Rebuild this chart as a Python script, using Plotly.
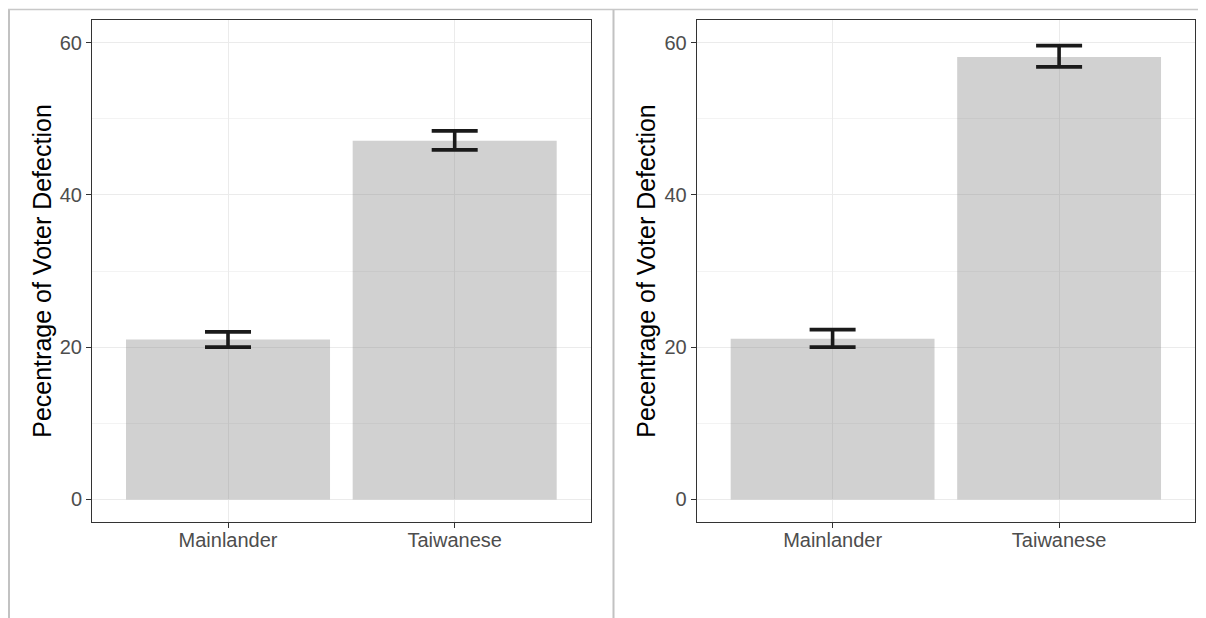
import plotly.graph_objects as go

# ---- data ----
groups = ["Mainlander", "Taiwanese"]
left_values = [21.0, 47.1]
left_lower = [20.0, 45.9]
left_upper = [22.0, 48.4]
right_values = [21.1, 58.1]
right_lower = [20.0, 56.8]
right_upper = [22.3, 59.6]
y_ticks = [0, 20, 40, 60]
y_title = "Pecentrage of Voter Defection"

# the page body has an 8px margin, so the figure starts at (8, 8)
OFF = 8
W, H = 1206 - OFF, 618 - OFF
FONT = "Liberation Sans, Arial, Helvetica, sans-serif"

fig = go.Figure()

panels = [
    (left_values, left_lower, left_upper, "x", "y"),
    (right_values, right_lower, right_upper, "x2", "y2"),
]
for vals, lo, hi, xa, ya in panels:
    fig.add_trace(go.Bar(
        x=groups, y=vals, xaxis=xa, yaxis=ya,
        width=0.9,
        marker=dict(color="rgba(128,128,128,0.36)", line=dict(width=0)),
        error_y=dict(
            type="data", symmetric=False,
            array=[h - v for h, v in zip(hi, vals)],
            arrayminus=[v - l for v, l in zip(vals, lo)],
            color="#1a1a1a", thickness=3.6, width=23,
        ),
        showlegend=False, hoverinfo="skip",
    ))

def px_x(p):
    return (p - OFF) / W

def px_y(p):
    return 1 - (p - OFF) / H

xdomains = [[px_x(92), px_x(590.7)], [px_x(696.7), px_x(1195)]]
ydom = [px_y(522.3), px_y(19.7)]

common_x = dict(
    type="category", range=[-0.6, 1.6],
    showline=True, mirror=True, linecolor="#333333", linewidth=1,
    showgrid=True, gridcolor="#ebebeb", gridwidth=1,
    ticks="outside", ticklen=5, tickcolor="#333333", tickwidth=1,
    tickfont=dict(family=FONT, size=20, color="#4d4d4d"),
    ticklabelstandoff=-5,
    zeroline=False,
)
common_y = dict(
    range=[-3, 63], tickvals=y_ticks,
    showline=True, mirror=True, linecolor="#333333", linewidth=1,
    showgrid=True, gridcolor="#ebebeb", gridwidth=1,
    minor=dict(showgrid=True, gridcolor="#f3f3f3", gridwidth=0.6, dtick=10, tick0=0),
    ticks="outside", ticklen=5, tickcolor="#333333", tickwidth=1,
    tickfont=dict(family=FONT, size=20, color="#4d4d4d"),
    title=dict(text=y_title, font=dict(family=FONT, size=25, color="#000000"), standoff=1),
    zeroline=False,
)

fig.update_layout(
    width=W, height=H,
    margin=dict(l=0, r=0, t=0, b=0),
    paper_bgcolor="white", plot_bgcolor="white",
    bargap=0.1,
    xaxis=dict(domain=xdomains[0], anchor="y", **common_x),
    yaxis=dict(domain=ydom, anchor="x", **common_y),
    xaxis2=dict(domain=xdomains[1], anchor="y2", **common_x),
    yaxis2=dict(domain=ydom, anchor="x2", **common_y),
    shapes=[
        dict(type="line", xref="paper", yref="paper", x0=px_x(9), x1=px_x(9), y0=px_y(10), y1=0,
             line=dict(color="#c2c2c2", width=2)),
        dict(type="line", xref="paper", yref="paper", x0=px_x(8), x1=px_x(1205), y0=px_y(9.5), y1=px_y(9.5),
             line=dict(color="#c8c8c8", width=1.5)),
        dict(type="line", xref="paper", yref="paper", x0=px_x(613.5), x1=px_x(613.5), y0=px_y(10), y1=0,
             line=dict(color="#c2c2c2", width=2)),
    ],
)

fig.write_html("out.html")
